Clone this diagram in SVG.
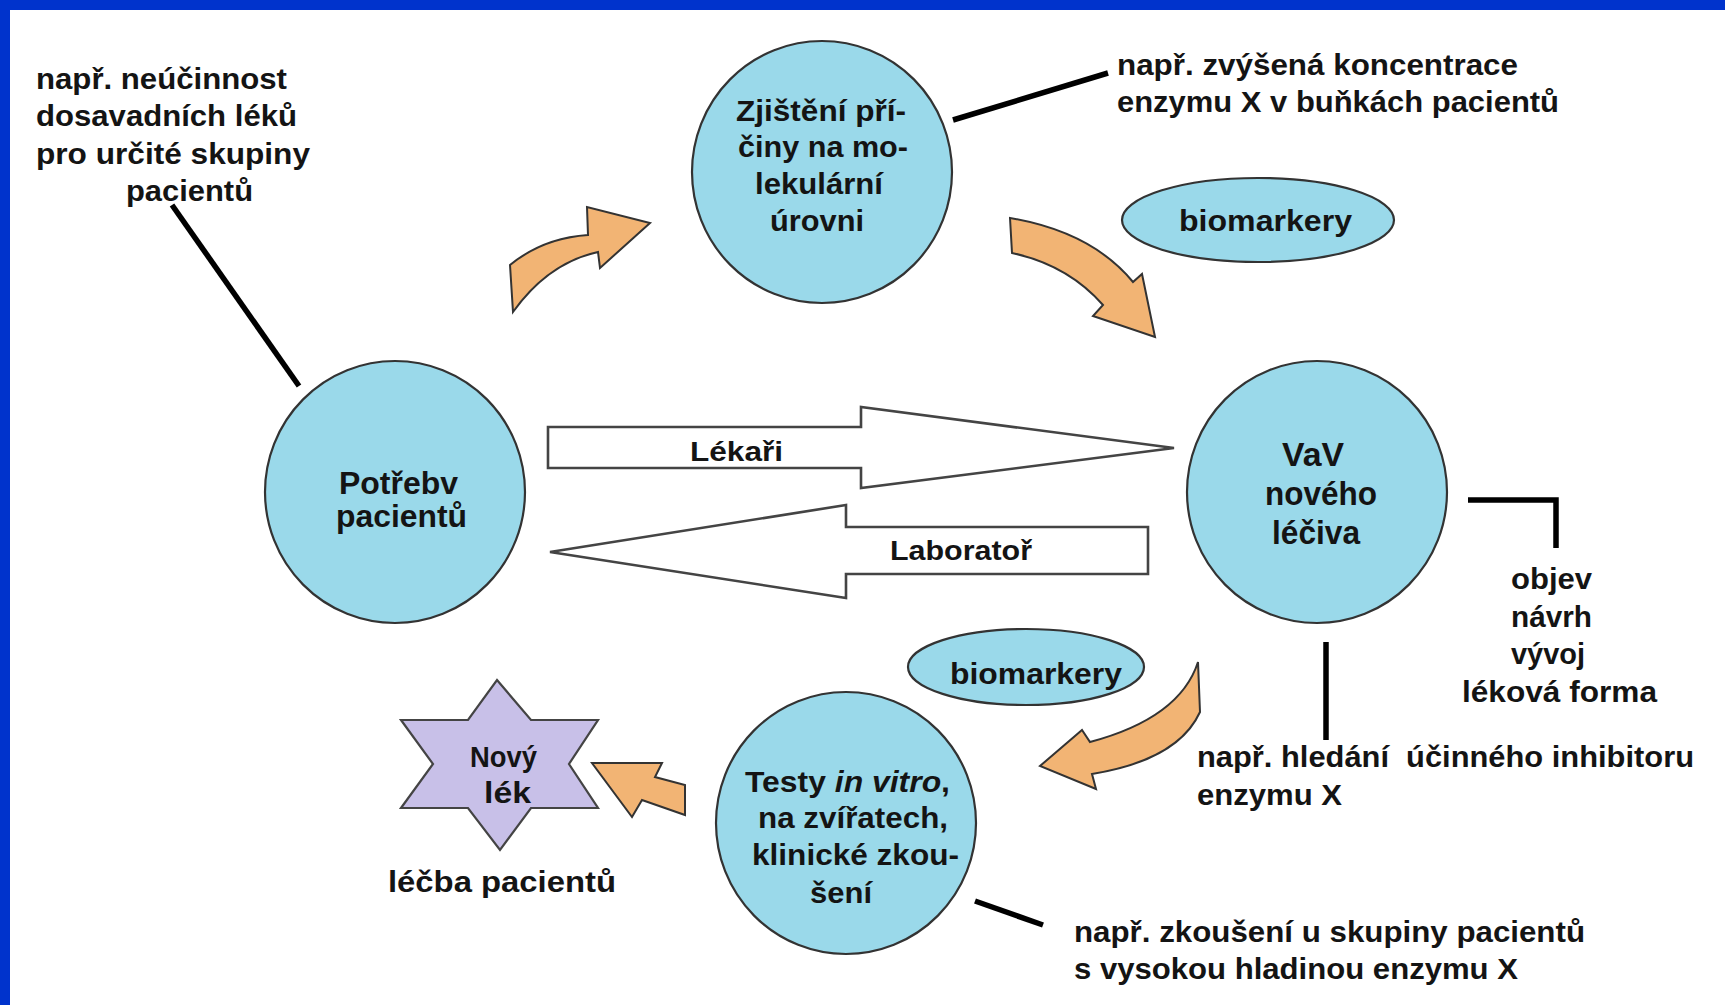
<svg xmlns="http://www.w3.org/2000/svg" width="1725" height="1005" viewBox="0 0 1725 1005">
<style>
.bg{fill:#ffffff}
.frame{fill:#0033cc}
.node{fill:#9ad9ea;stroke:#333;stroke-width:2.2}
.star{fill:#c8c0e8;stroke:#444;stroke-width:2.2}
.flow{fill:#f2b474;stroke:#333;stroke-width:2}
.hollow{fill:#ffffff;stroke:#444;stroke-width:2.6;stroke-linejoin:miter}
.lead{stroke:#000;stroke-width:5.5;fill:none}
text{font-family:"Liberation Sans",Arial,sans-serif;font-weight:bold;fill:#141414}
.t29{font-size:29px}
.t31{font-size:31px}
.t33{font-size:33px}
.t27{font-size:27px}
</style>
<rect class="bg" x="0" y="0" width="1725" height="1005"/>
<rect class="frame" x="0" y="0" width="1725" height="10"/>
<rect class="frame" x="0" y="0" width="10" height="1005"/>

<g id="connectors">
  <path class="lead" d="M172,205 L299,386"/>
  <path class="lead" d="M953,120 L1108,73"/>
  <path class="lead" d="M1468,500 L1556,500 L1556,548"/>
  <path class="lead" d="M1326,642 L1326,740"/>
  <path class="lead" d="M975,901 L1043,925"/>
  <path class="flow" d="M510,265 Q543,238 588,235 L587,207 L650,223 L600,268 L598,252 Q548,263 513,312 Z"/>
  <path class="flow" d="M1010,218 Q1092,232 1133,282 L1142,274 L1155,337 L1093,316 L1103,305 Q1068,265 1012,253 Z"/>
  <path class="flow" d="M1198,662 Q1180,718 1090,742 L1082,730 L1040,766 L1096,789 L1092,774 Q1178,760 1200,712 Z"/>
  <path class="flow" d="M592,763 L662,763 L655,777 L685,785 L685,815 L642,800 L632,817 Z"/>
  <g id="arrow-lekari">
    <polygon class="hollow" points="548,427 861,427 861,407 1174,448 861,488 861,468 548,468"/>
    <text class="t27" x="690" y="461" textLength="93" lengthAdjust="spacingAndGlyphs">Lékaři</text>
  </g>
  <g id="arrow-laborator">
    <polygon class="hollow" points="1148,527 846,527 846,505 550,552 846,598 846,574 1148,574"/>
    <text class="t27" x="890" y="560" textLength="142" lengthAdjust="spacingAndGlyphs">Laboratoř</text>
  </g>
</g>

<g id="note-neucinnost">
  <text class="t29" x="36" y="89" textLength="251" lengthAdjust="spacingAndGlyphs">např. neúčinnost</text>
  <text class="t29" x="36" y="126" textLength="261" lengthAdjust="spacingAndGlyphs">dosavadních léků</text>
  <text class="t29" x="36" y="164" textLength="274" lengthAdjust="spacingAndGlyphs">pro určité skupiny</text>
  <text class="t29" x="126" y="201" textLength="127" lengthAdjust="spacingAndGlyphs">pacientů</text>
</g>

<g id="node-zjisteni">
  <ellipse class="node" cx="822" cy="172" rx="130" ry="131"/>
  <text class="t29" x="736" y="121" textLength="170" lengthAdjust="spacingAndGlyphs">Zjištění pří-</text>
  <text class="t29" x="738" y="157" textLength="170" lengthAdjust="spacingAndGlyphs">činy na mo-</text>
  <text class="t29" x="755" y="194" textLength="128" lengthAdjust="spacingAndGlyphs">lekulární</text>
  <text class="t29" x="770" y="231" textLength="94" lengthAdjust="spacingAndGlyphs">úrovni</text>
</g>

<g id="note-koncentrace">
  <text class="t29" x="1117" y="75" textLength="401" lengthAdjust="spacingAndGlyphs">např. zvýšená koncentrace</text>
  <text class="t29" x="1117" y="112" textLength="442" lengthAdjust="spacingAndGlyphs">enzymu X v buňkách pacientů</text>
</g>

<g id="node-biomarkery-1">
  <ellipse class="node" cx="1258" cy="220" rx="136" ry="42"/>
  <text class="t29" x="1179" y="231" textLength="173" lengthAdjust="spacingAndGlyphs">biomarkery</text>
</g>

<g id="node-potreby">
  <ellipse class="node" cx="395" cy="492" rx="130" ry="131"/>
  <text class="t31" x="339" y="494" textLength="119" lengthAdjust="spacingAndGlyphs">Potřebv</text>
  <text class="t31" x="336" y="527" textLength="131" lengthAdjust="spacingAndGlyphs">pacientů</text>
</g>

<g id="node-vav">
  <ellipse class="node" cx="1317" cy="492" rx="130" ry="131"/>
  <text class="t33" x="1282" y="466" textLength="62" lengthAdjust="spacingAndGlyphs">VaV</text>
  <text class="t33" x="1265" y="505" textLength="112" lengthAdjust="spacingAndGlyphs">nového</text>
  <text class="t33" x="1272" y="544" textLength="88" lengthAdjust="spacingAndGlyphs">léčiva</text>
</g>

<g id="note-objev">
  <text class="t29" x="1511" y="589" textLength="81" lengthAdjust="spacingAndGlyphs">objev</text>
  <text class="t29" x="1511" y="627" textLength="81" lengthAdjust="spacingAndGlyphs">návrh</text>
  <text class="t29" x="1511" y="664" textLength="74" lengthAdjust="spacingAndGlyphs">vývoj</text>
  <text class="t29" x="1462" y="702" textLength="195" lengthAdjust="spacingAndGlyphs">léková forma</text>
</g>

<g id="node-biomarkery-2">
  <ellipse class="node" cx="1026" cy="667" rx="118" ry="38"/>
  <text class="t29" x="950" y="684" textLength="172" lengthAdjust="spacingAndGlyphs">biomarkery</text>
</g>

<g id="note-inhibitor">
  <text class="t29" x="1197" y="767" textLength="497" lengthAdjust="spacingAndGlyphs">např. hledání&#160; účinného inhibitoru</text>
  <text class="t29" x="1197" y="805" textLength="145" lengthAdjust="spacingAndGlyphs">enzymu X</text>
</g>

<g id="node-testy">
  <ellipse class="node" cx="846" cy="823" rx="130" ry="131"/>
  <text class="t29" x="745" y="792" textLength="205" lengthAdjust="spacingAndGlyphs">Testy <tspan font-style="italic">in vitro</tspan>,</text>
  <text class="t29" x="758" y="828" textLength="190" lengthAdjust="spacingAndGlyphs">na zvířatech,</text>
  <text class="t29" x="752" y="865" textLength="207" lengthAdjust="spacingAndGlyphs">klinické zkou-</text>
  <text class="t29" x="810" y="903" textLength="62" lengthAdjust="spacingAndGlyphs">šení</text>
</g>

<g id="node-novy-lek">
  <polygon class="star" points="497,680 531,720 598,720 569,764 598,808 531,808 500,850 468,808 401,808 433,764 401,720 468,720"/>
  <text class="t29" x="470" y="767" textLength="67" lengthAdjust="spacingAndGlyphs">Nový</text>
  <text class="t29" x="484" y="803" textLength="47" lengthAdjust="spacingAndGlyphs">lék</text>
</g>

<g id="note-lecba">
  <text class="t29" x="388" y="892" textLength="228" lengthAdjust="spacingAndGlyphs">léčba pacientů</text>
</g>

<g id="note-zkouseni">
  <text class="t29" x="1074" y="942" textLength="511" lengthAdjust="spacingAndGlyphs">např. zkoušení u skupiny pacientů</text>
  <text class="t29" x="1074" y="979" textLength="444" lengthAdjust="spacingAndGlyphs">s vysokou hladinou enzymu X</text>
</g>
</svg>
